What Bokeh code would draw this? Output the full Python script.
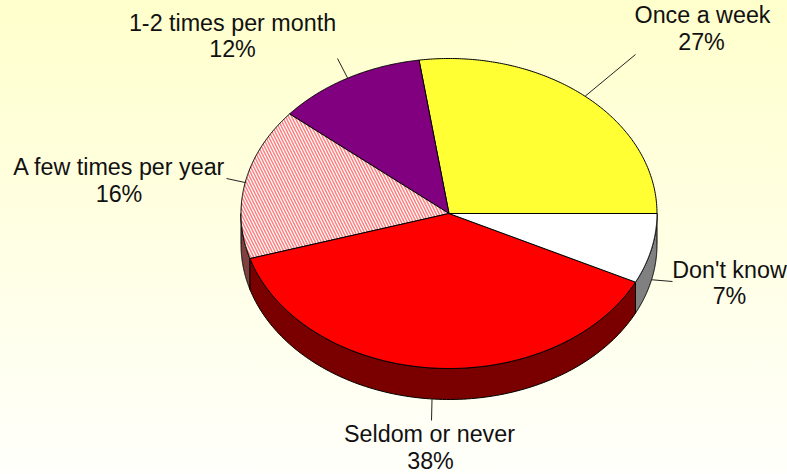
import numpy as np
from bokeh.plotting import figure
from bokeh.models import Range1d
from bokeh.core.properties import value
from bokeh.embed import file_html
from bokeh.resources import INLINE

categories = ["Once a week", "1-2 times per month", "A few times per year", "Seldom or never", "Don't know"]
shares = [27.3, 11.6, 15.8, 38.0, 7.3]
percent_labels = ["27%", "12%", "16%", "38%", "7%"]

top_colors = ["#ffff33", "#800080", "#ffffff", "#ff0000", "#ffffff"]
side_colors = ["#808019", "#400040", "#804040", "#7a0000", "#808080"]
hatches = [None, None, "left_diagonal_line", None, None]

W, H = 787, 474
CX, CY, RX, RY, DEPTH = 448.5, 213, 208, 155, 31

# pixel helpers for layout only
def fx(px): return (px - CX) / RX
def fy(py): return (CY - py) / RY

p = figure(width=W, height=H, output_backend="svg", toolbar_location=None,
           x_range=Range1d(fx(0), fx(W)), y_range=Range1d(fy(H), fy(0)),
           min_border=0, outline_line_color=None,
           background_fill_alpha=0, border_fill_alpha=0,
           styles={"position": "fixed", "left": "0", "top": "0",
                   "background": "linear-gradient(to bottom, #ffffcc, #fffffb)"})
p.xaxis.visible = False
p.yaxis.visible = False
p.xgrid.visible = False
p.ygrid.visible = False

d = DEPTH / RY
edges = np.cumsum([0] + shares) / sum(shares) * 2 * np.pi

# side walls: only the lower half of the rim shows
for i in range(len(shares)):
    a = max(edges[i], np.pi)
    b = min(edges[i + 1], 2 * np.pi)
    if b <= a:
        continue
    t = np.linspace(a, b, 120)
    xs = np.r_[np.cos(t), np.cos(t[::-1])]
    ys = np.r_[np.sin(t), np.sin(t[::-1]) - d]
    p.patch(xs, ys, fill_color=side_colors[i], line_color="black", line_width=1)

# top faces
for i in range(len(shares)):
    t = np.linspace(edges[i], edges[i + 1], 160)
    xs = np.r_[0, np.cos(t), 0]
    ys = np.r_[0, np.sin(t), 0]
    kw = {}
    if hatches[i]:
        kw = dict(hatch_pattern=hatches[i], hatch_color="#ff8080", hatch_scale=6, hatch_weight=1.5)
    p.patch(xs, ys, fill_color=top_colors[i], line_color="black", line_width=1, **kw)

# leader lines and labels
leader_ends = [(635, 54), (337, 58), (226, 178), (431, 420), (672, 281)]
label_pos = [(702, 14), (232, 22), (119, 166), (429, 433), (729, 269)]
pct_pos = [(701, 41), (232, 48), (118.5, 193), (430, 460), (729, 295)]
mids = (edges[:-1] + edges[1:]) / 2
for i, m in enumerate(mids):
    y0 = np.sin(m) - (d if np.sin(m) < 0 else 0)
    p.line([np.cos(m), fx(leader_ends[i][0])], [y0, fy(leader_ends[i][1])],
           line_color="#222222", line_width=1)
    p.text([fx(label_pos[i][0])], [fy(label_pos[i][1])], text=[categories[i]],
           text_font=value("Liberation Sans"), text_font_size="23.3px", text_color="#111111",
           text_align="center", text_baseline="middle")
    p.text([fx(pct_pos[i][0])], [fy(pct_pos[i][1])], text=[percent_labels[i]],
           text_font=value("Liberation Sans"), text_font_size="23.3px", text_color="#111111",
           text_align="center", text_baseline="middle")

open("out.html", "w").write(file_html(p, INLINE))
